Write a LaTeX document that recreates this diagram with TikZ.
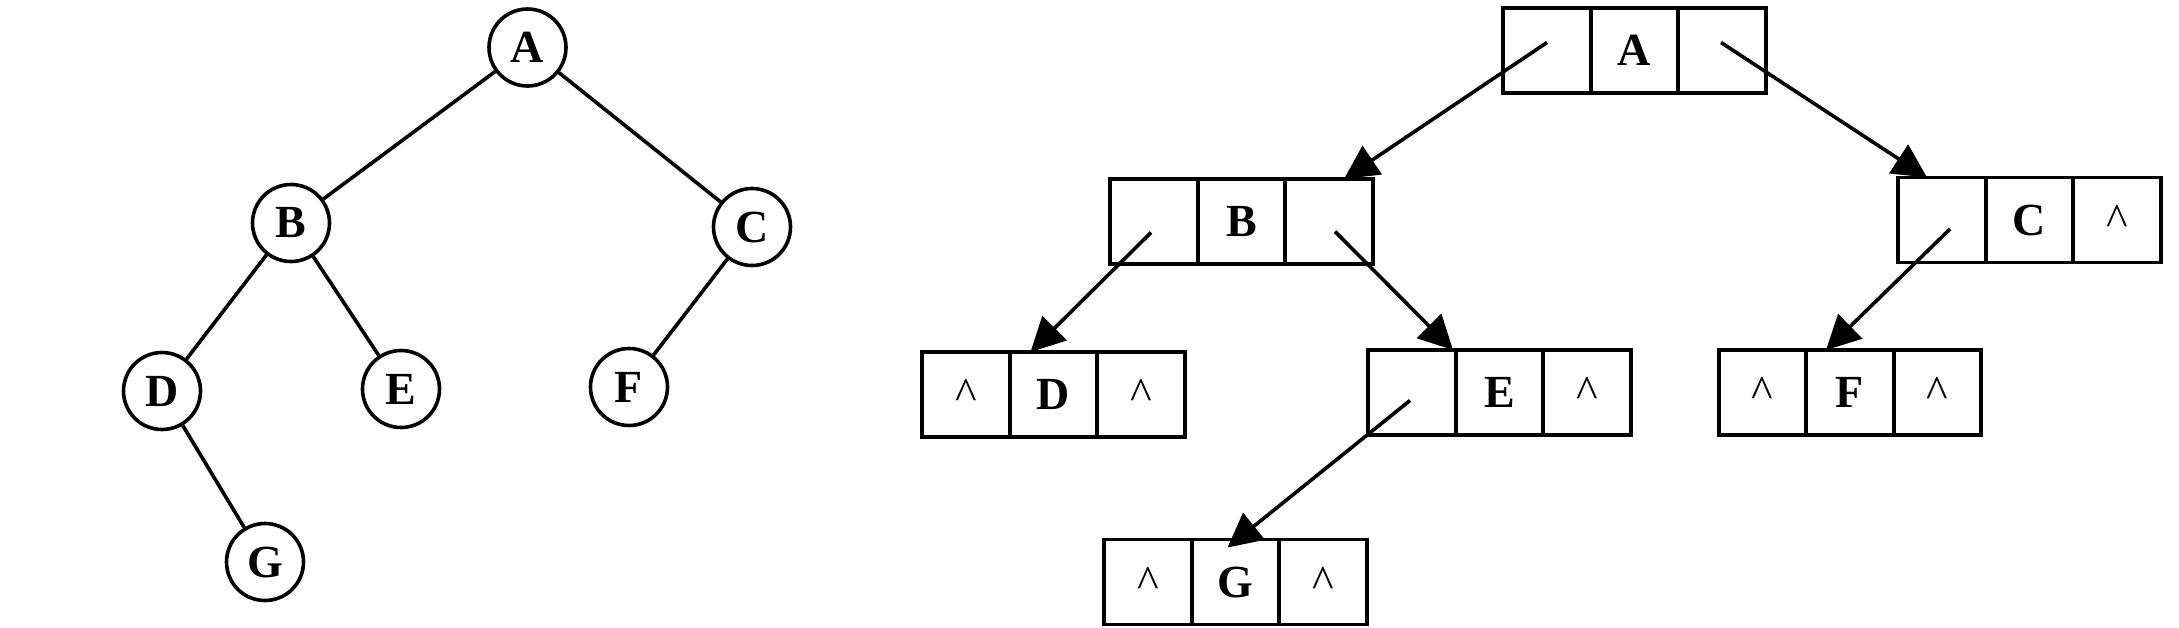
\documentclass[tikz,border=0pt]{standalone}
\usepackage{fontspec}
\setmainfont{Liberation Serif}
\usetikzlibrary{arrows.meta,calc}
\newcommand\mkrec[6]{%
  \node[cell] (#1l) at (#2-87.5,#3) {#4};
  \node[cell] (#1m) at (#2,#3) {#5};
  \node[cell] (#1r) at (#2+87.5,#3) {#6};
}
\begin{document}
\begin{tikzpicture}[x=0.5pt,y=-0.5pt,
  lbl/.style={font=\fontsize{23}{27}\selectfont\bfseries},
  tnode/.style={lbl,circle,draw,line width=1.8pt,minimum size=38.5pt,inner sep=0pt},
  tedge/.style={line width=1.8pt},
  cell/.style={lbl,draw,line width=1.8pt,minimum width=43.75pt,minimum height=42.5pt,inner sep=0pt,outer sep=0pt},
  ptr/.style={line width=1.8pt,-{Triangle[length=17pt,width=17pt]}}
]
\useasboundingbox (0,0) rectangle (2179,627);
\newcommand\nil{{\mdseries\textasciicircum}}
% left tree
\node[tnode] (A) at (527.5,47.5) {A};
\node[tnode] (B) at (291,223) {B};
\node[tnode] (C) at (752,227) {C};
\node[tnode] (D) at (162,391) {D};
\node[tnode] (E) at (401,389) {E};
\node[tnode] (F) at (629,387) {F};
\node[tnode] (G) at (265,562) {G};
\draw[tedge] (A) -- (B);
\draw[tedge] (A) -- (C);
\draw[tedge] (B) -- (D);
\draw[tedge] (B) -- (E);
\draw[tedge] (C) -- (F);
\draw[tedge] (D) -- (G);
% linked representation
\mkrec{RA}{1634.5}{50.5}{}{A}{}
\mkrec{RB}{1241.5}{221.5}{}{B}{}
\mkrec{RC}{2029.5}{220}{}{C}{\nil}
\mkrec{RD}{1053.5}{394.5}{\nil}{D}{\nil}
\mkrec{RE}{1499.5}{392.5}{}{E}{\nil}
\mkrec{RF}{1850}{392.5}{\nil}{F}{\nil}
\mkrec{RG}{1235.5}{582}{\nil}{G}{\nil}
\coordinate (sAl) at ($(RAl.center)+(0,-8)$);
\coordinate (sAr) at ($(RAr.center)+(-1,-8)$);
\coordinate (sBl) at ($(RBl.center)+(-3,11)$);
\coordinate (sBr) at ($(RBr.center)+(6,10)$);
\coordinate (sCl) at ($(RCl.center)+(8,9)$);
\coordinate (sEl) at ($(REl.center)+(-2,8)$);
\draw[ptr] (sAl) -- ($(RBr.north)+(15,0)$);
\draw[ptr] (sAr) -- ($(RCl.north)+(-15,0)$);
\draw[ptr] (sBl) -- ($(RDm.north)+(-23,0)$);
\draw[ptr] (sBr) -- ($(REl.north)+(41,0)$);
\draw[ptr] (sCl) -- ($(RFm.north)+(-24,0)$);
\draw[ptr] (sEl) -- ($(RGm.north)+(-8,8)$);
\end{tikzpicture}
\end{document}
